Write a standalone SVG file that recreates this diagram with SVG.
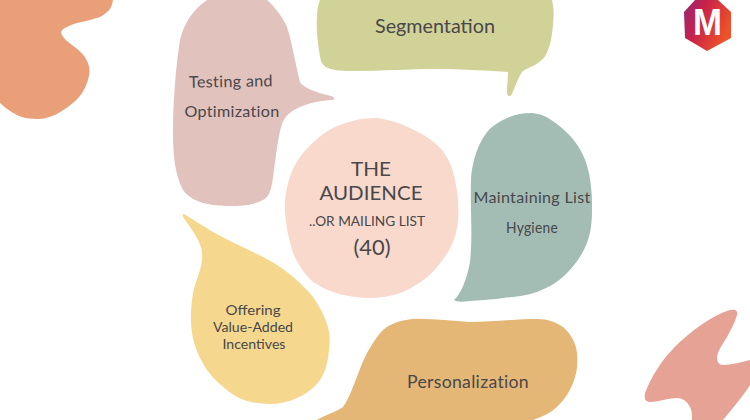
<svg xmlns="http://www.w3.org/2000/svg" width="750" height="420" viewBox="0 0 750 420">
<style>
text{font-family:"Lato","Noto Sans",sans-serif;fill:#48474a;text-anchor:middle}
.m{font-size:16px;letter-spacing:.3px}
.s{font-size:14px}
.l{font-size:20px}
</style>
<defs><linearGradient id="lg" x1="0" y1="0" x2="1" y2="0.45"><stop offset="0" stop-color="#8f2a78"/><stop offset=".4" stop-color="#c8204a"/><stop offset="1" stop-color="#ee5228"/></linearGradient></defs>
<rect width="750" height="420" fill="#fff"/>
<g id="blob-orange"><path fill="#e9a079" d="M0 0H113C112 6 110 10 107 12C102 17 97 18 90 20C82 22 74 23 67 27C62 29 60 32 62 35C64 39 68 42 72 45C79 50 85 55 88 63C90 68 90 74 88 80C85 90 80 97 73 103C62 112 50 119 38 119C30 119 23 118 17 115C11 112 5 108 0 103Z"/></g>
<g id="blob-coral"><path fill="#e7a296" d="M750 360V385C743 396 733 408 723 420H692C692 415 692 411 690 407C687 401 682 398 677 398C668 398 658 402 650 402C645 402 644 398 645 393C650 380 660 362 672 350C685 336 710 316 730 310C736 309 738 311 737 315C735 322 731 330 727 337C723 344 718 350 717 357C717 362 719 365 723 365C732 365 741 362 750 360Z"/></g>
<g id="node-testing"><path fill="#e2c2bd" d="M207 0H267C276 8 283 18 287 27C292 42 295 62 300 82C303 88 318 93 331 96C335 97 335 100 331 100C312 101 292 108 285 118C279 126 277 150 274 170C272 185 271 196 263 200C252 206 240 206 230 206C212 206 192 203 183 190C175 175 173 155 173 133C173 100 176 65 180 40C184 22 195 8 207 0Z"/></g>
<g id="node-segmentation"><path fill="#d1d298" d="M320 0H552C554 8 554 15 553 25C552 35 551 43 548 50C545 58 542 60 538 63C533 67 526 68 522 72C518 78 515 87 512 94C510 97 507 97 507 92C507 85 508 78 508 72C490 71 465 69 435 69C410 69 385 71 350 71C340 71 332 70 328 68C323 66 321 62 320 57C318 45 316 30 317 17C317 10 318 5 320 0Z"/></g>
<g id="node-audience"><path fill="#f8d9cc" d="M375 118C390 119 405 125 418 132C428 137 436 143 442 150C449 159 453 169 455 180C458 193 459 207 458 220C457 238 449 253 437 267C428 278 416 286 403 292C392 296 381 298 370 298C350 298 329 293 313 282C304 274 298 264 293 253C288 236 284 218 285 200C287 183 291 170 300 157C309 145 320 135 333 128C346 122 360 118 375 118Z"/></g>
<g id="node-hygiene"><path fill="#a3bdb5" d="M454 300C460 295 467 280 470 262C473 235 470 205 471 180C472 160 480 137 492 127C505 117 517 113 532 113C545 114 553 121 562 128C570 135 577 143 582 153C587 163 590 175 591 187C592 195 592 202 592 210C592 222 591 232 587 243C582 255 576 264 567 273C559 281 550 287 537 292C525 296 514 297 503 298C490 300 478 300 470 301C463 302 456 302 454 300Z"/></g>
<g id="node-incentives"><path fill="#f5d78e" d="M183 214L184 214C192 219 203 226 213 232C226 239 240 246 253 252C265 258 277 264 287 272C297 280 306 288 313 297C320 307 325 317 328 327C330 335 330 342 329 350C328 361 326 371 320 380C314 388 306 394 297 398C288 402 279 404 270 404C258 404 247 402 237 397C226 390 215 381 207 370C199 358 194 346 192 333C190 320 191 306 193 293C195 282 201 271 202 260C203 252 201 246 198 240C194 232 188 224 183 217Z"/></g>
<g id="node-personalization"><path fill="#e4b777" d="M317 420C325 415 336 412 343 407C352 395 358 370 367 353C372 344 377 336 383 330C391 323 402 320 413 319C430 318 450 321 470 322C490 322 515 319 537 319C548 319 556 322 563 327C571 334 576 343 577 353C578 364 577 374 573 383C569 393 564 400 557 407C550 413 542 417 533 420Z"/></g>
<g id="logo"><path fill="url(#lg)" d="M695 0H718L731 12V38L707 51L685 38L684 12Z"/><text x="707.500" y="35" style="font-family:'Liberation Sans',sans-serif;font-weight:700;font-size:36px;fill:#fff" textLength="29" lengthAdjust="spacingAndGlyphs">M</text></g>
<g id="labels">
<text class="m" x="231" y="87" transform="rotate(-1 231 87)" textLength="84" lengthAdjust="spacingAndGlyphs">Testing and</text>
<text class="m" x="232" y="117" textLength="95" lengthAdjust="spacingAndGlyphs">Optimization</text>
<text class="l" x="435" y="33" style="font-size:19px" textLength="120" lengthAdjust="spacingAndGlyphs">Segmentation</text>
<text x="371" y="176" style="font-size:20px" textLength="40" lengthAdjust="spacingAndGlyphs">THE</text>
<text x="371" y="200" style="font-size:20px" textLength="103" lengthAdjust="spacingAndGlyphs">AUDIENCE</text>
<text x="367" y="226" style="font-size:13px" textLength="116" lengthAdjust="spacingAndGlyphs">..OR MAILING LIST</text>
<text x="372" y="255" style="font-size:21px" textLength="37" lengthAdjust="spacingAndGlyphs">(40)</text>
<text class="m" x="532" y="203" textLength="117" lengthAdjust="spacingAndGlyphs">Maintaining List</text>
<text class="m" x="532" y="233" textLength="52" lengthAdjust="spacingAndGlyphs">Hygiene</text>
<text class="s" x="253" y="315" textLength="55" lengthAdjust="spacingAndGlyphs">Offering</text>
<text class="s" x="253" y="332" textLength="80" lengthAdjust="spacingAndGlyphs">Value-Added</text>
<text class="s" x="254" y="349" textLength="63" lengthAdjust="spacingAndGlyphs">Incentives</text>
<text class="m" x="468" y="388" style="font-size:17px" textLength="122" lengthAdjust="spacingAndGlyphs">Personalization</text>
</g>
</svg>
